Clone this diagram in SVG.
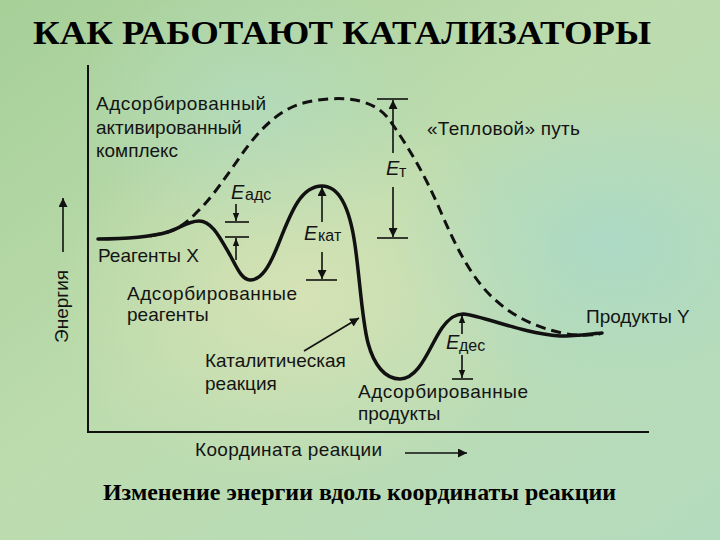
<svg xmlns="http://www.w3.org/2000/svg" width="720" height="540" viewBox="0 0 720 540">
<defs>
<linearGradient id="bg" x1="0" y1="0" x2="1" y2="1">
<stop offset="0" stop-color="#a6cf98"/>
<stop offset="0.45" stop-color="#bddcae"/>
<stop offset="1" stop-color="#b4dbbe"/>
</linearGradient>
<radialGradient id="warm" cx="0.42" cy="0.55" r="0.35">
<stop offset="0" stop-color="#dbe4b6" stop-opacity="0.8"/>
<stop offset="1" stop-color="#dbe4b6" stop-opacity="0"/>
</radialGradient>
<radialGradient id="cool" cx="0.85" cy="0.45" r="0.3">
<stop offset="0" stop-color="#a7d9cc" stop-opacity="0.7"/>
<stop offset="1" stop-color="#a7d9cc" stop-opacity="0"/>
</radialGradient>
<radialGradient id="cool2" cx="0.35" cy="0.2" r="0.25">
<stop offset="0" stop-color="#b3dcc6" stop-opacity="0.6"/>
<stop offset="1" stop-color="#b3dcc6" stop-opacity="0"/>
</radialGradient>
<marker id="ah" viewBox="0 0 10 10" refX="10" refY="5" markerWidth="9" markerHeight="9" markerUnits="userSpaceOnUse" orient="auto">
<path d="M0,0 L10,5 L0,10 z" fill="#111"/>
</marker>
<marker id="ahs" viewBox="0 0 10 10" refX="10" refY="5" markerWidth="8" markerHeight="8" markerUnits="userSpaceOnUse" orient="auto">
<path d="M0,1 L10,5 L0,9 z" fill="#111"/>
</marker>
</defs>
<style>
.lbl{font-family:"Liberation Sans",Arial,sans-serif;font-size:19px;fill:#141414}
.ei{font-family:"Liberation Sans",Arial,sans-serif;font-size:20px;font-style:italic;fill:#141414}
.sub{font-family:"Liberation Sans",Arial,sans-serif;font-size:16px;fill:#141414}
.title{font-family:"Liberation Serif","Times New Roman",serif;font-weight:bold;fill:#000}
.arr{stroke:#111;stroke-width:1.6;fill:none}
.tick{stroke:#111;stroke-width:1.6}
.axis{stroke:#111;stroke-width:2;fill:none}
</style>
<rect width="720" height="540" fill="url(#bg)"/>
<rect width="720" height="540" fill="url(#warm)"/>
<rect width="720" height="540" fill="url(#cool)"/>
<rect width="720" height="540" fill="url(#cool2)"/>

<g id="title">
<text class="title" x="33" y="44" font-size="34" textLength="618" lengthAdjust="spacingAndGlyphs">КАК РАБОТАЮТ КАТАЛИЗАТОРЫ</text>
</g>

<g id="axes">
<line class="axis" x1="88" y1="65" x2="88" y2="432"/>
<line class="axis" x1="87" y1="432" x2="649" y2="432"/>
<line class="arr" x1="63" y1="252" x2="63" y2="198" marker-end="url(#ah)"/>
<text class="lbl" transform="translate(68,343) rotate(-90)">Энергия</text>
<text class="lbl" x="195" y="456" textLength="187" lengthAdjust="spacing">Координата реакции</text>
<line class="arr" x1="405" y1="453" x2="467" y2="453" marker-end="url(#ah)"/>
</g>

<g id="curves">
<path id="thermal" d="M150 236 C175 232,185 225,197 212 C210 200,220 185,240 157 C255 135,275 112,300 104 C320 98,345 97,360 101 C375 105,385 112,393 125 C410 150,425 175,440 210 C455 245,470 275,490 295 C510 315,535 328,567 334 C580 336,590 335,600 334" fill="none" stroke="#111" stroke-width="3" stroke-dasharray="10 6"/>
<path id="catalytic" d="M98 239 C130 239,150 237,168 232 C180 228,188 221,199 221 C212 221,220 238,230 255 C237 268,242 280,250 280 C262 280,270 265,278 245 C290 215,300 186,322 186 C340 186,350 210,355 245 C360 280,362 320,368 343 C374 365,385 379,400 379 C420 379,430 345,442 328 C450 317,456 314,463 314 C485 316,520 333,560 336 C575 336,590 334,602 333" fill="none" stroke="#111" stroke-width="3.5" stroke-linecap="round"/>
</g>

<g id="E-t">
<line class="tick" x1="377" y1="99" x2="408" y2="99"/>
<line class="arr" x1="393" y1="153" x2="393" y2="100" marker-end="url(#ah)"/>
<text class="ei" x="386" y="175">E</text><text class="sub" x="399" y="177">т</text>
<line class="arr" x1="393" y1="187" x2="393" y2="237" marker-end="url(#ah)"/>
<line class="tick" x1="377" y1="238" x2="408" y2="238"/>
</g>

<g id="E-ads">
<text class="ei" x="231" y="199">E</text><text class="sub" x="245" y="200">адс</text>
<line class="arr" x1="236" y1="204" x2="236" y2="221" marker-end="url(#ahs)"/>
<line class="tick" x1="225" y1="222" x2="249" y2="222"/>
<line class="tick" x1="225" y1="237" x2="249" y2="237"/>
<line class="arr" x1="236" y1="260" x2="236" y2="238" marker-end="url(#ahs)"/>
</g>

<g id="E-kat">
<line class="arr" x1="322" y1="222" x2="322" y2="187" marker-end="url(#ah)"/>
<text class="ei" x="304" y="240">E</text><text class="sub" x="318" y="241">кат</text>
<line class="arr" x1="322" y1="252" x2="322" y2="279" marker-end="url(#ah)"/>
<line class="tick" x1="306" y1="280" x2="337" y2="280"/>
</g>

<g id="E-des">
<line class="arr" x1="462" y1="334" x2="462" y2="315" marker-end="url(#ahs)"/>
<text class="ei" x="446" y="349">E</text><text class="sub" x="459" y="351">дес</text>
<line class="arr" x1="462" y1="355" x2="462" y2="378" marker-end="url(#ahs)"/>
<line class="tick" x1="452" y1="379" x2="473" y2="379"/>
</g>

<g id="labels">
<text class="lbl" x="96" y="110" textLength="170" lengthAdjust="spacing">Адсорбированный</text>
<text class="lbl" x="96" y="134">активированный</text>
<text class="lbl" x="96" y="157">комплекс</text>
<text class="lbl" x="427" y="135" textLength="153" lengthAdjust="spacing">«Тепловой» путь</text>
<text class="lbl" x="98" y="262">Реагенты X</text>
<text class="lbl" x="127" y="300" textLength="170" lengthAdjust="spacing">Адсорбированные</text>
<text class="lbl" x="127" y="321">реагенты</text>
<text class="lbl" x="205" y="367">Каталитическая</text>
<text class="lbl" x="205" y="390">реакция</text>
<line class="arr" x1="304" y1="351" x2="359" y2="318" marker-end="url(#ah)"/>
<text class="lbl" x="358" y="398" textLength="170" lengthAdjust="spacing">Адсорбированные</text>
<text class="lbl" x="358" y="420">продукты</text>
<text class="lbl" x="586" y="323">Продукты Y</text>
</g>

<g id="caption">
<text class="title" x="103" y="500" font-size="23" textLength="513" lengthAdjust="spacingAndGlyphs">Изменение энергии вдоль координаты реакции</text>
</g>
</svg>
